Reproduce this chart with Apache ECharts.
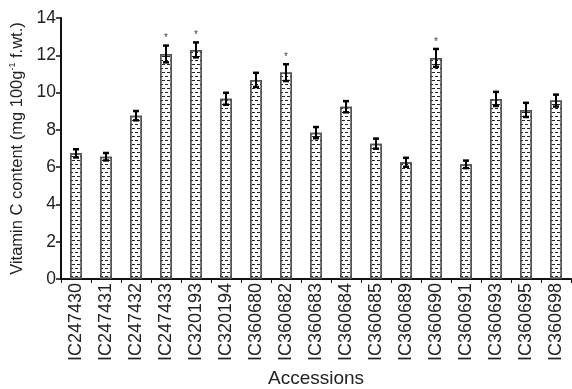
<!DOCTYPE html>
<html><head><meta charset="utf-8">
<script src="https://cdn.jsdelivr.net/npm/echarts@6/dist/echarts.min.js"></script>
<style>html,body{margin:0;padding:0;background:#fff}#c{width:572px;height:389px}</style>
</head><body><div id="c"></div>
<script>
var categories = ['IC247430','IC247431','IC247432','IC247433','IC320193','IC320194','IC360680','IC360682','IC360683','IC360684','IC360685','IC360689','IC360690','IC360691','IC360693','IC360695','IC360698'];
var values = [6.74, 6.56, 8.76, 12.07, 12.29, 9.67, 10.68, 11.07, 7.85, 9.24, 7.26, 6.26, 11.86, 6.15, 9.66, 9.07, 9.57];
var errors = [0.22, 0.2, 0.25, 0.45, 0.4, 0.32, 0.38, 0.45, 0.3, 0.3, 0.27, 0.24, 0.48, 0.2, 0.38, 0.38, 0.32];
var signif = ['', '', '', '*', '*', '', '', '*', '', '', '', '', '*', '', '', '', ''];
var yTicks = [0, 2, 4, 6, 8, 10, 12, 14];

var FONT = "'Liberation Sans',Arial,sans-serif";
var NARROW = "'Liberation Sans Narrow','Liberation Sans',Arial,sans-serif";
var chart = echarts.init(document.getElementById('c'));
var errData = values.map(function(v, i){ return [i, v, errors[i]]; });
chart.setOption({
  animation: false,
  grid: {left: 61, right: 1, top: 18, bottom: 110, containLabel: false, outerBoundsMode: 'none'},
  xAxis: {
    type: 'category', data: categories,
    name: 'Accessions', nameLocation: 'middle', nameGap: 89,
    nameTextStyle: {fontFamily: FONT, fontSize: 19, color: '#222'},
    axisLine: {lineStyle: {color: '#111', width: 2}},
    axisTick: {show: true, length: 4, lineStyle: {color: '#111', width: 1}},
    axisLabel: {rotate: 90, fontFamily: FONT, fontSize: 18, color: '#222', margin: 4}
  },
  yAxis: {
    type: 'value', min: yTicks[0], max: yTicks[yTicks.length-1], interval: 2,
    name: '{a|Vitamin C content (mg 100g}{s|-1}{a| f.wt.)}',
    nameLocation: 'middle', nameGap: 34, nameRotate: 90,
    nameTextStyle: {rich: {
      a: {fontFamily: NARROW, fontSize: 16.5, color: '#222', lineHeight: 18},
      s: {fontFamily: NARROW, fontSize: 9, color: '#222', verticalAlign: 'top', lineHeight: 18}
    }},
    splitLine: {show: false},
    axisLine: {show: true, lineStyle: {color: '#111', width: 2}},
    axisTick: {show: true, length: 5, lineStyle: {color: '#111', width: 1.5}},
    axisLabel: {fontFamily: FONT, fontSize: 17.5, color: '#222', margin: 5}
  },
  series: [{
    type: 'bar', data: values, barWidth: 12,
    itemStyle: {
      color: '#fff', borderColor: '#555', borderWidth: 1.5,
      decal: {symbol: 'rect', symbolSize: 1, color: '#222', dashArrayX: [[3, 2], [0, 2, 3, 0]], dashArrayY: [1, 3], rotation: 0}
    }
  }, {
    type: 'custom',
    data: errData,
    renderItem: function(params, api){
      var x = api.value(0), v = api.value(1), e = api.value(2);
      var top = api.coord([x, v + e]);
      var bot = api.coord([x, v - e]);
      var cx = top[0];
      var w = 3;
      var children = [
        {type: 'line', shape: {x1: cx, y1: top[1], x2: cx, y2: bot[1]}, style: {stroke: '#000', lineWidth: 2}},
        {type: 'line', shape: {x1: cx - w, y1: top[1], x2: cx + w, y2: top[1]}, style: {stroke: '#000', lineWidth: 2.5}},
        {type: 'line', shape: {x1: cx - w, y1: bot[1], x2: cx + w, y2: bot[1]}, style: {stroke: '#000', lineWidth: 2.5}}
      ];
      var s = signif[params.dataIndex];
      if (s) {
        children.push({type: 'text', style: {text: s, x: cx, y: top[1] - 2, align: 'center', verticalAlign: 'bottom', fontSize: 10, fill: '#444', fontFamily: FONT}});
      }
      return {type: 'group', children: children};
    },
    z: 5
  }]
});
</script></body></html>
